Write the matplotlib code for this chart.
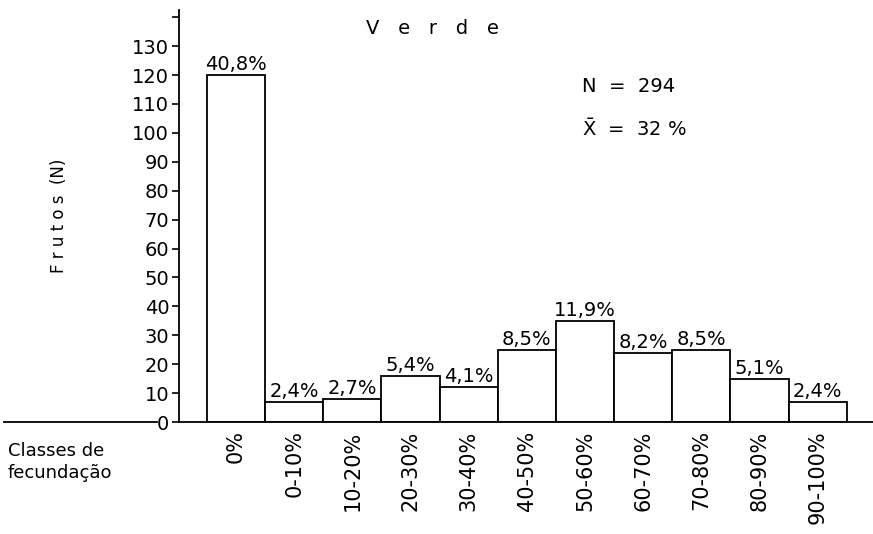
import numpy as np
import matplotlib.pyplot as plt
from matplotlib.lines import Line2D

# classes de fecundacao e numero de frutos (N = 294)
classes = ['0%', '0-10%', '10-20%', '20-30%', '30-40%', '40-50%',
           '50-60%', '60-70%', '70-80%', '80-90%', '90-100%']
frutos = [120, 7, 8, 16, 12, 25, 35, 24, 25, 15, 7]
percent = ['40,8%', '2,4%', '2,7%', '5,4%', '4,1%', '8,5%',
           '11,9%', '8,2%', '8,5%', '5,1%', '2,4%']
yticks = list(range(0, 150, 10))
yticklabels = [str(v) for v in yticks[:-1]] + ['']

plt.rcParams.update({'mathtext.default': 'regular', 'font.size': 14})

fig = plt.figure(figsize=(8.73, 5.34), dpi=100)
ax = fig.add_axes([0.205, 0.2097, 0.795, 0.7716])

x = np.arange(len(classes))
ax.bar(x, frutos, width=1.0, facecolor='white', edgecolor='black', linewidth=1.3)
for xi, v, p in zip(x, frutos, percent):
    ax.text(xi, v + 0.3, p, ha='center', va='bottom', fontsize=14)

ax.set_xlim(-0.98, 10.95)
ax.set_ylim(0, 142.5)
ax.set_yticks(yticks)
ax.set_yticklabels(yticklabels)
ax.set_xticks(x)
ax.set_xticklabels(classes, rotation=90, va='top', fontsize=15)
ax.tick_params(axis='y', direction='out', length=5, width=1.2, pad=2, labelsize=14)
ax.tick_params(axis='x', length=0, pad=6)

for s in ['top', 'right']:
    ax.spines[s].set_visible(False)
ax.spines['left'].set_linewidth(1.3)
ax.spines['bottom'].set_linewidth(1.3)

ax.set_ylabel('F r u t o s  (N)', fontsize=12)
ax.yaxis.set_label_coords(-0.16, 0.5)

ax.text(0.365, 0.955, 'V   e   r   d   e', transform=ax.transAxes, ha='center', va='center')
ax.text(0.58, 0.815, 'N  =  294', transform=ax.transAxes, ha='left', va='center')
ax.text(0.58, 0.71, r'$\bar{X}$  =  32 %', transform=ax.transAxes, ha='left', va='center')

# linha de base a esquerda do eixo
fig.add_artist(Line2D([0.005, 0.18], [0.2097, 0.2097], color='black', linewidth=1.3))
fig.text(0.009, 0.135, 'Classes de\nfecundação', ha='left', va='center', fontsize=13,
         linespacing=1.25)

plt.savefig('out.png', dpi=100)
